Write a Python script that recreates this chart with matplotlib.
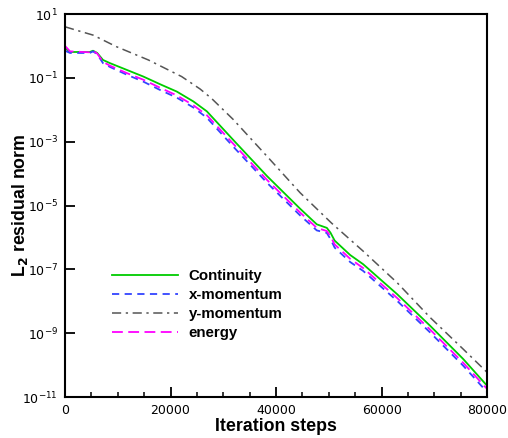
import matplotlib
matplotlib.use("Agg")
import matplotlib.pyplot as plt
import numpy as np
from matplotlib.ticker import FixedLocator, MultipleLocator, FuncFormatter

# ---- data (log10 of residual norms) ----
iters = [0, 950, 4700, 5300, 6100, 7200, 8530, 11690, 14850, 18010, 21180,
         24330, 26880, 31850, 38290, 44550, 47710, 49610, 50300, 51100,
         54030, 56500, 62950, 69200, 75460, 80000]
continuity = [-0.06, -0.19, -0.19, -0.15, -0.22, -0.44, -0.54, -0.75, -0.96,
              -1.20, -1.43, -1.74, -2.05, -2.94, -4.08, -5.10, -5.59, -5.70,
              -5.85, -6.10, -6.55, -6.84, -7.78, -8.77, -9.81, -10.65]
x_momentum = [-0.15, -0.22, -0.22, -0.17, -0.26, -0.54, -0.66, -0.90, -1.12,
              -1.38, -1.62, -1.93, -2.25, -3.15, -4.29, -5.31, -5.78, -5.86,
              -6.05, -6.32, -6.77, -7.05, -7.99, -8.98, -10.02, -10.85]
energy = [0.00, -0.17, -0.20, -0.15, -0.24, -0.50, -0.62, -0.85, -1.06,
          -1.31, -1.55, -1.86, -2.17, -3.06, -4.20, -5.22, -5.70, -5.80,
          -5.96, -6.22, -6.67, -6.96, -7.90, -8.89, -9.93, -10.75]
iters_y = [0, 2000, 5300, 9700, 15800, 22100, 25600, 27800, 31850, 38290,
           44550, 50500, 56500, 62950, 69200, 75460, 80000]
y_momentum = [0.60, 0.50, 0.34, -0.02, -0.44, -0.96, -1.35, -1.65, -2.30,
              -3.46, -4.60, -5.55, -6.43, -7.42, -8.51, -9.50, -10.23]

series_labels = ["Continuity", "x-momentum", "y-momentum", "energy"]
y_tick_exps = [1, -1, -3, -5, -7, -9, -11]
x_tick_vals = [0, 20000, 40000, 60000, 80000]

# ---- style ----
plt.rcParams['font.family'] = ['Liberation Sans', 'DejaVu Sans']
plt.rcParams['mathtext.fontset'] = 'custom'
plt.rcParams['mathtext.rm'] = 'DejaVu Sans'
plt.rcParams['mathtext.it'] = 'DejaVu Sans:italic'
plt.rcParams['mathtext.bf'] = 'DejaVu Sans:bold'

fig = plt.figure(figsize=(5.08, 4.38), dpi=100)
ax = fig.add_axes([0.128, 0.0936, 0.831, 0.8744])

def pw(v):
    return [10.0 ** e for e in v]

ax.plot(iters, pw(continuity), color='#00cc00', lw=1.3, ls='-', label=series_labels[0])
ax.plot(iters, pw(x_momentum), color='#3344ff', lw=1.3, ls=(0, (4, 3)), label=series_labels[1])
ax.plot(iters_y, pw(y_momentum), color='#555555', lw=1.1, ls=(0, (6, 3, 1.5, 3)), label=series_labels[2])
ax.plot(iters, pw(energy), color='#ff00ff', lw=1.3, ls=(0, (6, 3)), label=series_labels[3])

ax.set_yscale('log')
ax.set_xlim(0, 80000)
ax.set_ylim(1e-11, 1e1)

ax.yaxis.set_major_locator(FixedLocator([10.0 ** e for e in y_tick_exps]))
ax.yaxis.set_minor_locator(FixedLocator([]))
ax.yaxis.set_major_formatter(FuncFormatter(lambda v, p: r'$10^{%d}$' % int(round(np.log10(v)))))
ax.xaxis.set_major_locator(FixedLocator(x_tick_vals))
ax.xaxis.set_minor_locator(MultipleLocator(5000))
ax.xaxis.set_major_formatter(FuncFormatter(lambda v, p: '%d' % v))

ax.tick_params(which='major', direction='in', length=7.2, width=1.3, labelsize=9, pad=5,
               labelfontfamily='DejaVu Sans')
ax.tick_params(which='minor', direction='in', length=3.6, width=1.1)
ax.tick_params(top=False, right=False, which='both')
for s in ax.spines.values():
    s.set_linewidth(1.5)

ax.set_xlabel('Iteration steps', fontsize=12.8, fontweight='bold', labelpad=1)
ax.set_ylabel(r'L$_\mathbf{2}$ residual norm', fontsize=12.8, fontweight='bold')
ax.yaxis.set_label_coords(-0.083, 0.5)

leg = ax.legend(loc='lower left', bbox_to_anchor=(0.08, 0.113), frameon=False,
                prop={'weight': 'bold', 'size': 10.8}, handlelength=4.4,
                handletextpad=0.7, labelspacing=0.33)

fig.savefig('out.png', dpi=100)
